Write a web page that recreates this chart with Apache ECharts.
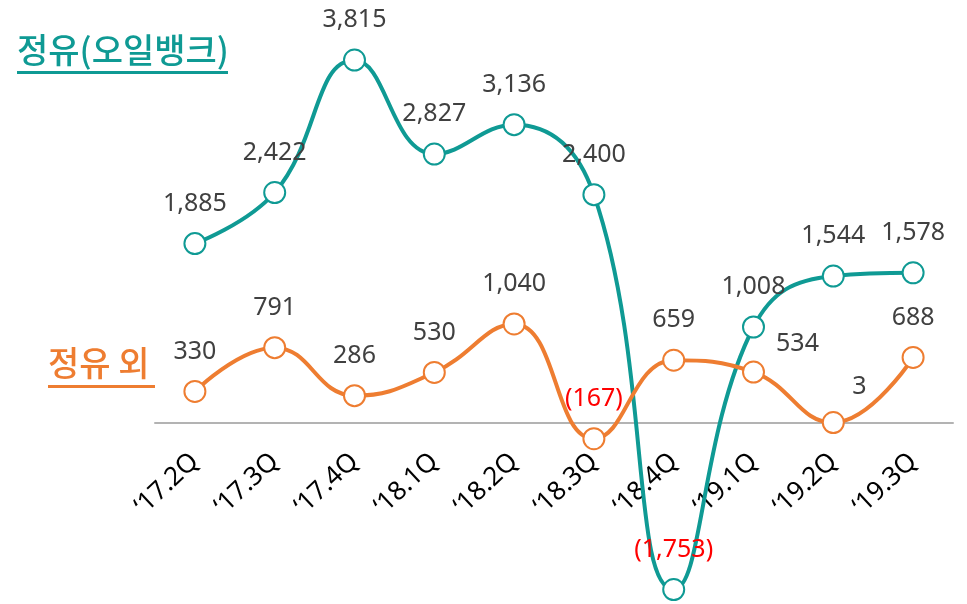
<!DOCTYPE html>
<html>
<head>
<meta charset="utf-8">
<script src="https://cdn.jsdelivr.net/npm/echarts@6/dist/echarts.min.js"></script>
<style>
  html, body { margin: 0; padding: 0; background: #fff; }
  #chart { width: 967px; height: 604px; }
</style>
</head>
<body>
<div id="chart"></div>
<script>
// quarters on the x axis
const quarters = ['‘17.2Q', '‘17.3Q', '‘17.4Q', '‘18.1Q', '‘18.2Q', '‘18.3Q', '‘18.4Q', '‘19.1Q', '‘19.2Q', '‘19.3Q'];
// 정유(오일뱅크)
const refining = [1885, 2422, 3815, 2827, 3136, 2400, -1753, 1008, 1544, 1578];
// 정유 외
const nonRefining = [330, 791, 286, 530, 1040, -167, 659, 534, 3, 688];

const TEAL = '#0f9a94';
const ORANGE = '#ee7d31';
const FONT = 'Noto Sans';

const Y_MIN = -1800, Y_MAX = 3900;
const GRID_TOP = 52, GRID_BOTTOM = 10, H = 604;

const fmt = v => {
  const s = Math.abs(v).toLocaleString('en-US');
  return v < 0 ? '{neg|(' + s + ')}' : s;
};

// a few labels sit off to the right in the original
const labelShift = { 'nonRefining-7': [44, 12], 'nonRefining-8': [26, 4] };

const makeData = (arr, key) => arr.map((v, i) => {
  const shift = labelShift[key + '-' + i];
  return shift ? { value: v, label: { offset: shift } } : v;
});

const labelStyle = {
  show: true,
  position: 'top',
  distance: 16,
  color: '#404040',
  fontSize: 25,
  fontFamily: FONT,
  formatter: p => fmt(p.value),
  rich: { neg: { color: '#ff0000', fontSize: 25, fontFamily: FONT } }
};

// the category axis sits on the zero line
const plotH = H - GRID_TOP - GRID_BOTTOM;
const zeroFromBottom = plotH * (0 - Y_MIN) / (Y_MAX - Y_MIN);

const chart = echarts.init(document.getElementById('chart'));
chart.setOption({
  animation: false,
  grid: { left: 155, right: 14, top: GRID_TOP, bottom: GRID_BOTTOM, outerBoundsMode: 'none', containLabel: false },
  xAxis: {
    type: 'category',
    data: quarters,
    offset: -zeroFromBottom,
    axisLine: { onZero: false, lineStyle: { color: '#b3b3b3', width: 2 } },
    axisTick: { show: false },
    axisLabel: { rotate: 43, margin: 35, color: '#000', fontSize: 26, fontFamily: FONT, interval: 0 }
  },
  yAxis: {
    type: 'value',
    min: Y_MIN,
    max: Y_MAX,
    show: false,
    splitLine: { show: false }
  },
  series: [
    {
      name: '정유(오일뱅크)',
      type: 'line',
      smooth: 0.45,
      data: makeData(refining, 'refining'),
      symbol: 'emptyCircle',
      symbolSize: 21,
      lineStyle: { color: TEAL, width: 4 },
      itemStyle: { color: TEAL, borderWidth: 3.5 },
      label: labelStyle
    },
    {
      name: '정유 외',
      type: 'line',
      smooth: 0.45,
      z: 3,
      data: makeData(nonRefining, 'nonRefining'),
      symbol: 'emptyCircle',
      symbolSize: 21,
      lineStyle: { color: ORANGE, width: 4 },
      itemStyle: { color: ORANGE, borderWidth: 3.5 },
      label: labelStyle
    }
  ],
  graphic: [
    {
      type: 'text', left: 17, top: 33,
      style: { text: '정유(오일뱅크)', fill: TEAL, font: '500 34px "Noto Sans CJK KR"' }
    },
    {
      type: 'rect', left: 17, top: 71,
      shape: { width: 211, height: 3 },
      style: { fill: TEAL }
    },
    {
      type: 'text', left: 48, top: 346,
      style: { text: '정유 외', fill: ORANGE, font: '500 34px "Noto Sans CJK KR"' }
    },
    {
      type: 'rect', left: 48, top: 385,
      shape: { width: 107, height: 3 },
      style: { fill: ORANGE }
    }
  ]
});
</script>
</body>
</html>
